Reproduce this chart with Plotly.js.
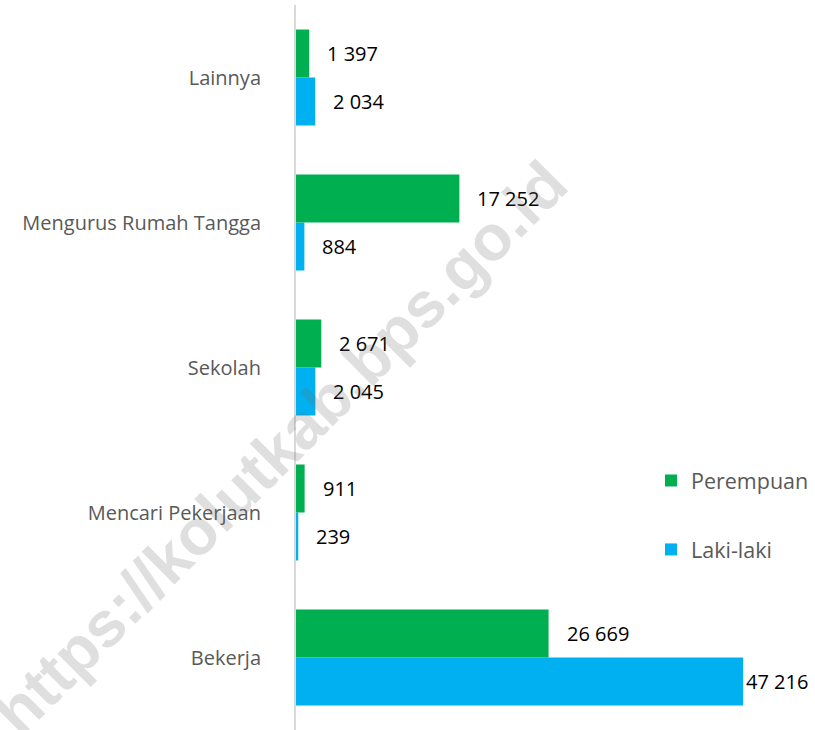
<!DOCTYPE html>
<html>
<head>
<meta charset="utf-8">
<script src="https://cdn.plot.ly/plotly-3.0.1.min.js"></script>
<style>html,body{margin:0;padding:0;background:#fff;}#chart{width:815px;height:730px;}</style>
</head>
<body>
<div id="chart"></div>
<script>
// Data (bottom to top)
const categories = ["Bekerja", "Mencari Pekerjaan", "Sekolah", "Mengurus Rumah Tangga", "Lainnya"];
const perempuan = [26669, 911, 2671, 17252, 1397];
const lakiLaki = [47216, 239, 2045, 884, 2034];
const seriesNames = ["Perempuan", "Laki-laki"];
const watermarkText = "https://kolutkab.bps.go.id";

const W = 815, H = 730;
const ML = 296, MR = 0, MT = 5, MB = 0;
const plotW = W - ML - MR, plotH = H - MT - MB;
const xMax = 54800;

function fmt(v) { return String(v).replace(/\B(?=(\d{3})+(?!\d))/g, ' '); }

const traces = [
  {type: 'bar', orientation: 'h', name: seriesNames[1], y: categories, x: lakiLaki,
   marker: {color: '#00B0F0'}, legendgroup: 'b', legendrank: 2, hoverinfo: 'skip'},
  {type: 'bar', orientation: 'h', name: seriesNames[0], y: categories, x: perempuan,
   marker: {color: '#00B050'}, legendgroup: 'a', legendrank: 1, hoverinfo: 'skip'}
];

const bargap = 0.338;
const half = (1 - bargap) / 4;
const annotations = [];
const maxVal = Math.max(...perempuan, ...lakiLaki);
categories.forEach((c, i) => {
  [[perempuan[i], i + half], [lakiLaki[i], i - half]].forEach(([v, yy]) => {
    annotations.push({
      x: v, y: yy, xref: 'x', yref: 'y', text: fmt(v), showarrow: false,
      xanchor: 'left', yanchor: 'middle', xshift: v === maxVal ? 1 : 16,
      font: {family: 'Open Sans', size: 20, color: '#000000'}
    });
  });
});
annotations.push({
  xref: 'paper', yref: 'paper', x: (280 - ML) / plotW, y: 1 - (448 - MT) / plotH,
  text: watermarkText, showarrow: false, textangle: -45,
  xanchor: 'center', yanchor: 'middle',
  font: {family: 'Liberation Sans', size: 64, weight: 'bold', color: 'rgba(110,110,110,0.22)'}
});

const layout = {
  width: W, height: H,
  margin: {l: ML, r: MR, t: MT, b: MB, pad: 0},
  paper_bgcolor: '#ffffff', plot_bgcolor: '#ffffff',
  barmode: 'group', bargap: bargap, bargroupgap: 0,
  showlegend: true,
  legend: {
    x: (651 - ML) / plotW, xanchor: 'left', y: 1 - (515 - MT) / plotH, yanchor: 'middle',
    traceorder: 'grouped', tracegroupgap: 38,
    font: {family: 'Open Sans', size: 21.5, color: '#595959'},
    bgcolor: 'rgba(0,0,0,0)'
  },
  xaxis: {range: [0, xMax], showgrid: false, zeroline: false, showticklabels: false,
          showline: false, ticks: '', fixedrange: true},
  yaxis: {type: 'category', categoryorder: 'array', categoryarray: categories,
          range: [-0.5, categories.length - 0.5],
          showgrid: false, zeroline: false, showline: true, linecolor: '#d9d9d9', linewidth: 2,
          ticks: '', ticklabelstandoff: 29,
          tickfont: {family: 'Open Sans', size: 20, color: '#595959'}, fixedrange: true},
  annotations: annotations,
  hovermode: false
};

Plotly.newPlot('chart', traces, layout, {displayModeBar: false, staticPlot: true});
</script>
</body>
</html>
